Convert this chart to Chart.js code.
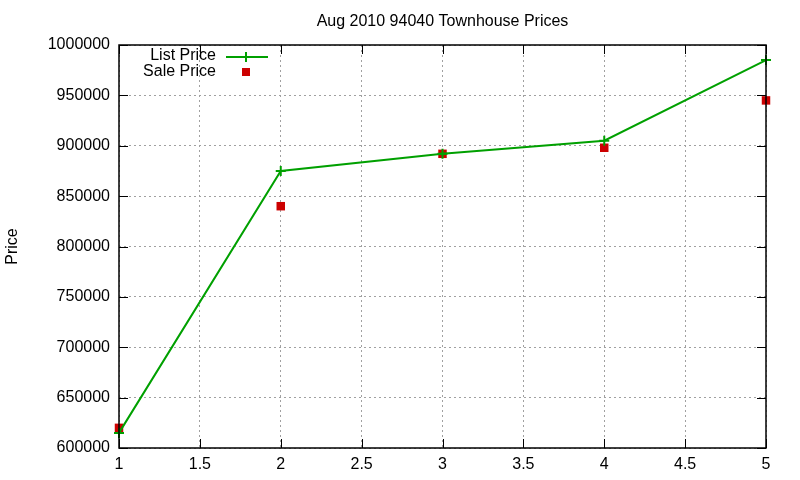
<!DOCTYPE html>
<html>
<head>
<meta charset="utf-8">
<script src="https://cdn.jsdelivr.net/npm/chart.js@4"></script>
<style>
  body { margin: 0; background: #fff; }
  #wrap { width: 800px; height: 480px; }
</style>
</head>
<body>
<div id="wrap"><canvas id="priceChart" width="800" height="480"></canvas></div>
<script>
const months = [1, 2, 3, 4, 5];
const listPrice = [615000, 875000, 892000, 905000, 985000];
const salePrice = [620000, 840000, 892000, 898000, 945000];
const xTicks = [1, 1.5, 2, 2.5, 3, 3.5, 4, 4.5, 5];
const yTicks = [600000, 650000, 700000, 750000, 800000, 850000, 900000, 950000, 1000000];
const chartTitle = "Aug 2010 94040 Townhouse Prices";

const FONT = "'Liberation Sans', Arial, sans-serif";
const FSIZE = 16;

// gnuplot-like frame: black border with inward ticks on all four sides,
// plus the title and the key drawn where gnuplot puts them
const framePlugin = {
    id: "frame",
    afterDatasetsDraw(chart) {
        const { ctx, chartArea: a, scales } = chart;
        ctx.save();
        ctx.strokeStyle = "#000";
        ctx.lineWidth = 1;
        ctx.beginPath();
        xTicks.forEach(function (v) {
            let x = Math.round(scales.x.getPixelForValue(v)) + 0.5;
            ctx.moveTo(x, a.bottom); ctx.lineTo(x, a.bottom - 9);
            ctx.moveTo(x, a.top); ctx.lineTo(x, a.top + 9);
        });
        yTicks.forEach(function (v) {
            let y = Math.round(scales.y.getPixelForValue(v)) + 0.5;
            ctx.moveTo(a.left, y); ctx.lineTo(a.left + 9, y);
            ctx.moveTo(a.right, y); ctx.lineTo(a.right - 9, y);
        });
        ctx.stroke();
        ctx.lineWidth = 1.5;
        ctx.strokeRect(a.left, a.top, a.right - a.left, a.bottom - a.top);

        ctx.font = FSIZE + "px " + FONT;
        ctx.fillStyle = "#000";
        ctx.textBaseline = "middle";
        ctx.textAlign = "center";
        ctx.fillText(chartTitle, (a.left + a.right) / 2, 22);

        // key, top-left inside the plot
        ctx.textAlign = "right";
        ctx.fillText("List Price", 216, 56);
        ctx.fillText("Sale Price", 216, 72);
        ctx.strokeStyle = "#00a000";
        ctx.lineWidth = 2;
        ctx.beginPath();
        ctx.moveTo(226, 57); ctx.lineTo(268, 57);
        ctx.moveTo(246, 52); ctx.lineTo(246, 62);
        ctx.stroke();
        ctx.fillStyle = "#cc0000";
        ctx.fillRect(242, 68, 8, 8);
        ctx.restore();
    }
};

let ctx = document.getElementById("priceChart").getContext("2d");

new Chart(ctx, {
    type: "line",
    data: {
        datasets: [{
            label: "List Price",
            data: months.map(function (m, i) { return { x: m, y: listPrice[i] }; }),
            borderColor: "#00a000",
            backgroundColor: "#00a000",
            borderWidth: 2,
            pointStyle: "cross",
            pointRadius: 5,
            pointBorderWidth: 2,
            tension: 0,
            fill: false,
            clip: false
        }, {
            label: "Sale Price",
            data: months.map(function (m, i) { return { x: m, y: salePrice[i] }; }),
            showLine: false,
            borderColor: "#cc0000",
            backgroundColor: "#cc0000",
            pointStyle: "rect",
            pointRadius: 6,
            pointBorderWidth: 0,
            clip: false
        }]
    },
    options: {
        responsive: false,
        animation: false,
        layout: { padding: { top: 45, right: 34, left: 0, bottom: 0 } },
        plugins: {
            legend: { display: false },
            tooltip: { enabled: false },
            title: { display: false }
        },
        scales: {
            x: {
                type: "linear",
                min: 1,
                max: 5,
                afterBuildTicks: function (scale) {
                    scale.ticks = xTicks.map(function (v) { return { value: v }; });
                },
                afterFit: function (scale) { scale.height = 32; },
                grid: { color: "#a0a0a0", tickLength: 0, drawTicks: false },
                border: { display: false, dash: [2, 3] },
                ticks: {
                    color: "#000",
                    padding: 7,
                    font: { family: FONT, size: FSIZE },
                    callback: function (v) { return String(v); }
                }
            },
            y: {
                type: "linear",
                min: 600000,
                max: 1000000,
                afterBuildTicks: function (scale) {
                    scale.ticks = yTicks.map(function (v) { return { value: v }; });
                },
                afterFit: function (scale) { scale.width = 119; },
                grid: { color: "#a0a0a0", tickLength: 0, drawTicks: false },
                border: { display: false, dash: [2, 3] },
                title: {
                    display: true,
                    text: "Price",
                    color: "#000",
                    font: { family: FONT, size: FSIZE },
                    padding: { top: 3, bottom: 14 }
                },
                ticks: {
                    color: "#000",
                    padding: 9,
                    font: { family: FONT, size: FSIZE },
                    callback: function (v) { return String(v); }
                }
            }
        }
    },
    plugins: [framePlugin]
});
</script>
</body>
</html>
